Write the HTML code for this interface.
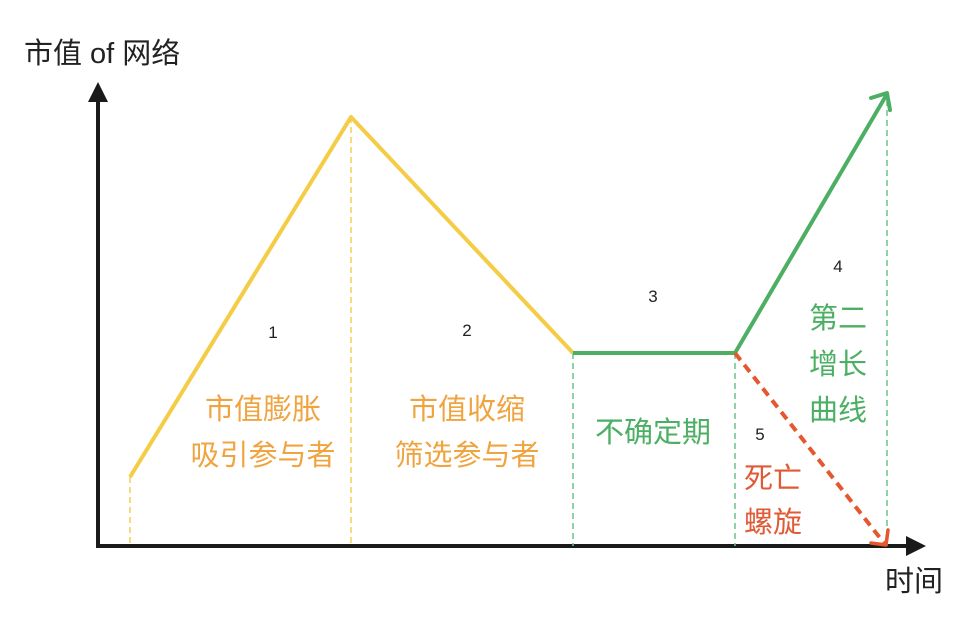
<!DOCTYPE html>
<html><head><meta charset="utf-8"><style>
html,body{margin:0;padding:0;background:#fff;}
svg text{font-family:"Liberation Sans","Noto Sans CJK SC",sans-serif;}
</style></head><body>
<svg width="972" height="621" viewBox="0 0 972 621" xmlns="http://www.w3.org/2000/svg">
<text x="24" y="63" font-size="29" fill="#222">市值 of 网络</text>
<text x="885" y="591" font-size="29" fill="#222">时间</text>
<line x1="98" y1="548" x2="98" y2="98" stroke="#1a1a1a" stroke-width="4"/>
<polygon points="98,82 88,102 108,102" fill="#1a1a1a"/>
<line x1="96" y1="546" x2="910" y2="546" stroke="#1a1a1a" stroke-width="4"/>
<polygon points="926,546 906,536 906,556" fill="#1a1a1a"/>
<g stroke-width="1.5" stroke-dasharray="6,4">
<line x1="130" y1="477" x2="130" y2="546" stroke="#f5cf50"/>
<line x1="351" y1="117" x2="351" y2="546" stroke="#f5cf50"/>
<line x1="573" y1="353" x2="573" y2="546" stroke="#6cc48a"/>
<line x1="735" y1="353" x2="735" y2="546" stroke="#6cc48a"/>
<line x1="887" y1="100" x2="887" y2="546" stroke="#6cc48a"/>
</g>
<polyline points="130,477 351,117 573,353" fill="none" stroke="#f5cc45" stroke-width="4" stroke-linejoin="round"/>
<polyline points="573,353 735,353 887,94" fill="none" stroke="#4caf63" stroke-width="4" stroke-linejoin="round"/>
<polyline points="871,98 887,93 890,110" fill="none" stroke="#4caf63" stroke-width="4" stroke-linecap="round" stroke-linejoin="round"/>
<line x1="735" y1="353" x2="884" y2="543" stroke="#e5572f" stroke-width="4" stroke-dasharray="9,6"/>
<polyline points="871,543 886,545 888,530" fill="none" stroke="#e5572f" stroke-width="3.5" stroke-linecap="round" stroke-linejoin="round"/>
<g font-size="17" fill="#222" text-anchor="middle">
<text x="273" y="338">1</text>
<text x="467" y="336">2</text>
<text x="653" y="302">3</text>
<text x="838" y="272">4</text>
<text x="760" y="440">5</text>
</g>
<g font-size="29" text-anchor="middle">
<text x="263" y="419" fill="#f0a440">市值膨胀</text>
<text x="263" y="465" fill="#f0a440">吸引参与者</text>
<text x="467" y="419" fill="#f0a440">市值收缩</text>
<text x="467" y="465" fill="#f0a440">筛选参与者</text>
<text x="653" y="442" fill="#4caf63">不确定期</text>
<text x="838" y="328" fill="#4caf63">第二</text>
<text x="838" y="374" fill="#4caf63">增长</text>
<text x="838" y="420" fill="#4caf63">曲线</text>
<text x="773" y="488" fill="#e05a35">死亡</text>
<text x="773" y="532" fill="#e05a35">螺旋</text>
</g>
</svg>
</body></html>
